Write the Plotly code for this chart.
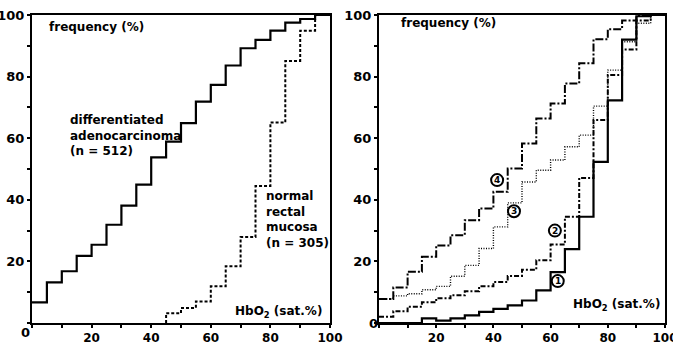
import plotly.graph_objects as go

# ---------------- data ----------------
bins = [0, 5, 10, 15, 20, 25, 30, 35, 40, 45, 50, 55, 60, 65, 70, 75, 80, 85, 90, 95, 100]

left_adeno = [6.7, 13.2, 16.8, 21.8, 25.4, 31.9, 38.1, 44.9, 53.8, 58.9, 64.9, 71.9,
              77.3, 83.6, 89.2, 91.9, 94.9, 97.5, 98.7, 100]
left_normal_x = [45, 50, 55, 60, 65, 70, 75, 80, 85, 90, 95]
left_normal = [3.2, 4.9, 7.0, 11.9, 18.4, 27.9, 44.5, 65.1, 85.1, 94.9, 100]

right_1 = [0, 0, 0, 1.5, 0.8, 1.5, 2.5, 3.6, 4.6, 5.7, 7.3, 10.6, 16.5, 24.0, 34.5, 52.3,
           72.3, 92.0, 99.6, 100]
right_2 = [2.0, 3.8, 5.3, 6.7, 8.0, 9.0, 10.3, 11.9, 13.3, 15.3, 17.3, 20.4, 25.5, 34.5,
           47.1, 65.9, 80.5, 88.8, 98.2, 100]
right_3 = [7.8, 8.8, 9.5, 10.8, 11.9, 15.2, 18.7, 24.2, 31.2, 39.0, 45.8, 49.6, 52.9, 57.2,
           61.0, 70.4, 82.1, 91.3, 97.3, 100]
right_4 = [7.8, 11.5, 16.6, 21.5, 25.2, 28.5, 33.4, 37.2, 42.6, 50.2, 58.3, 66.4, 71.3, 77.8,
           84.3, 92.1, 95.4, 98.2, 99.7, 100]

major_ticks = [20, 40, 60, 80, 100]
major_text = ["20", "40", "60", "80", "100"]

circle_labels = ["4", "3", "2", "1"]
circle_x = [41.3, 47.2, 61.5, 62.5]
circle_y = [46.4, 36.3, 30.0, 13.6]

W, H = 673, 346
FONT = "DejaVu Sans"


def stepline(xs, ys):
    xx = list(xs[:len(ys)])
    yy = list(ys)
    xx.append(xs[len(ys)] if len(xs) > len(ys) else 100)
    yy.append(ys[-1])
    return xx, yy


fig = go.Figure()

# ----- left panel -----
x, y = stepline(bins, left_adeno)
fig.add_trace(go.Scatter(x=x, y=y, mode="lines", line_shape="hv",
                         line=dict(color="black", width=2.2), xaxis="x", yaxis="y"))
x, y = stepline(left_normal_x + [100], left_normal)
x = [left_normal_x[0]] + x
y = [0] + y
fig.add_trace(go.Scatter(x=x, y=y, mode="lines", line_shape="hv",
                         line=dict(color="black", width=2, dash="3px,2px"), xaxis="x", yaxis="y"))

# ----- right panel -----
styles = [
    (right_1, dict(color="black", width=2.2)),
    (right_2, dict(color="black", width=2, dash="5px,2px,2px,2px")),
    (right_3, dict(color="black", width=1.4, dash="1px,1.5px")),
    (right_4, dict(color="black", width=2, dash="8px,2px,2px,2px")),
]
for vals, ln in styles:
    x, y = stepline(bins, vals)
    fig.add_trace(go.Scatter(x=x, y=y, mode="lines", line_shape="hv", line=ln,
                             xaxis="x2", yaxis="y2"))

axis_common = dict(range=[0, 100], showgrid=False, zeroline=False, showline=True,
                   automargin=False, ticklabeloverflow="allow",
                   linecolor="black", linewidth=2, mirror=True, ticks="outside",
                   ticklen=3, tickwidth=1.5, tickcolor="black",
                   tickvals=major_ticks, ticktext=major_text,
                   minor=dict(tickvals=list(range(0, 101, 10)), ticks="outside", ticklen=3,
                              tickwidth=1.5, tickcolor="black", showgrid=False))

xfont = dict(family=FONT, size=12, color="black", weight="bold")
yfont = dict(family=FONT, size=13, color="black", weight="bold")

ydom = [1 - 323 / H, 1 - 15 / H]
fig.update_layout(
    width=W, height=H, margin=dict(l=0, r=0, t=0, b=0, autoexpand=False),
    paper_bgcolor="white", plot_bgcolor="white", showlegend=False,
    xaxis=dict(domain=[32 / W, 330 / W], anchor="y", tickfont=xfont, **axis_common),
    yaxis=dict(domain=ydom, anchor="x", tickfont=yfont, **axis_common),
    xaxis2=dict(domain=[379 / W, 665 / W], anchor="y2", tickfont=xfont, **axis_common),
    yaxis2=dict(domain=ydom, anchor="x2", tickfont=yfont, **axis_common),
)

tf = dict(family=FONT, size=12, color="black", weight="bold")
ann = []
ann.append(dict(x=5, y=96, xref="x", yref="y", text="frequency (%)", showarrow=False,
                xanchor="left", yanchor="middle", font=tf))
ann.append(dict(x=12, y=61, xref="x", yref="y",
                text="differentiated<br>adenocarcinoma<br>(n = 512)", showarrow=False,
                xanchor="left", yanchor="middle", align="left", font=tf))
ann.append(dict(x=78, y=33.5, xref="x", yref="y",
                text="normal<br>rectal<br>mucosa<br>(n = 305)", showarrow=False,
                xanchor="left", yanchor="middle", align="left", font=tf))
ann.append(dict(x=98, y=3.5, xref="x", yref="y", text="HbO<sub>2</sub> (sat.%)",
                showarrow=False, xanchor="right", yanchor="middle", font=tf))
ann.append(dict(x=7, y=97.5, xref="x2", yref="y2", text="frequency (%)", showarrow=False,
                xanchor="left", yanchor="middle", font=tf))
ann.append(dict(x=99, y=6, xref="x2", yref="y2", text="HbO<sub>2</sub> (sat.%)",
                showarrow=False, xanchor="right", yanchor="middle", font=tf))

shapes = []
for lab, xx, yy in zip(circle_labels, circle_x, circle_y):
    shapes.append(dict(type="circle", xref="x2", yref="y2", xsizemode="pixel",
                       ysizemode="pixel", xanchor=xx, yanchor=yy, x0=-6, x1=6,
                       y0=-6, y1=6, line=dict(color="black", width=2),
                       fillcolor="white"))
    ann.append(dict(x=xx, y=yy, xref="x2", yref="y2", text=lab, showarrow=False,
                    xanchor="center", yanchor="middle",
                    font=dict(family=FONT, size=9, color="black", weight="bold")))

ann.append(dict(x=25 / W, y=1 - 332 / H, xref="paper", yref="paper", text="0", showarrow=False,
                xanchor="center", yanchor="middle",
                font=dict(family=FONT, size=13, color="black", weight="bold")))
ann.append(dict(x=373 / W, y=1 - 323 / H, xref="paper", yref="paper", text="0", showarrow=False,
                xanchor="center", yanchor="middle",
                font=dict(family=FONT, size=13, color="black", weight="bold")))
fig.update_layout(annotations=ann, shapes=shapes)

fig.write_html("out.html")
